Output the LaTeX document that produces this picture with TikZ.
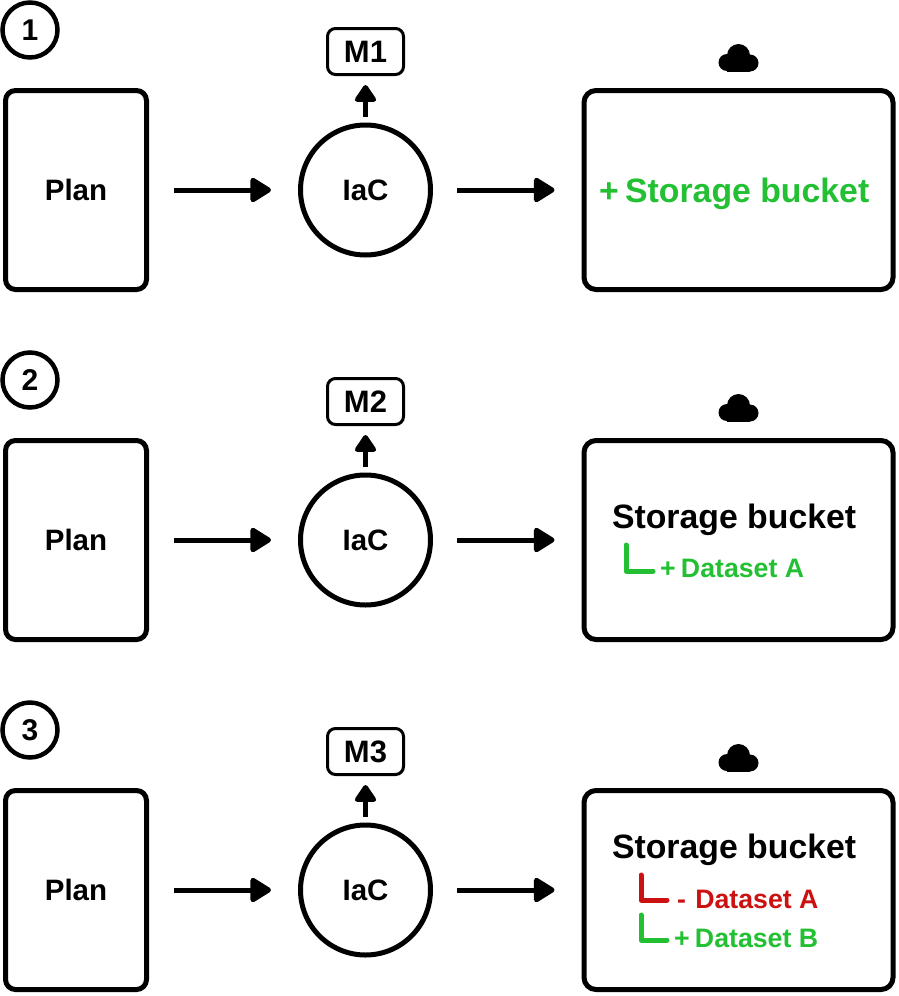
\documentclass[tikz,border=0pt]{standalone}
\usepackage{fontspec}
\setmainfont{Liberation Sans}
\usetikzlibrary{arrows.meta}
\definecolor{addgreen}{RGB}{34,192,50}
\definecolor{delred}{RGB}{204,17,17}
\begin{document}
\begin{tikzpicture}[x=1pt,y=-1pt,inner sep=0pt,outer sep=0pt,line width=5pt,font=\bfseries,
>={Triangle[round,length=23pt,width=27pt]},
uparrow/.style={{Triangle[round,length=19pt,width=24pt]}-},
stepnum/.style={draw,circle,minimum size=55pt,line width=4.5pt,font=\bfseries\fontsize{30}{30}\selectfont},
planblock/.style={draw,rectangle,rounded corners=10pt,minimum width=141pt,minimum height=199pt,font=\bfseries\fontsize{29.5}{30}\selectfont},
iacblock/.style={draw,circle,minimum size=130pt,font=\bfseries\fontsize{29.5}{30}\selectfont},
modblock/.style={draw,rectangle,rounded corners=8pt,minimum width=76pt,minimum height=46pt,line width=3pt,font=\bfseries\fontsize{31}{31}\selectfont},
cloudblock/.style={draw,rectangle,rounded corners=12pt,minimum width=309pt,minimum height=199pt},
bigtext/.style={anchor=base west,font=\bfseries\fontsize{33.8}{34}\selectfont},
subtext/.style={anchor=base west,font=\bfseries\fontsize{26.7}{27}\selectfont},
elbow/.style={line cap=round,line join=round,line width=5pt},
cloudicon/.pic={\fill (-11,4.5) circle[radius=8.5];
\fill (12,5) circle[radius=8.5];
\fill (0.5,-2.5) circle[radius=11.5];
\fill (-11,4) rectangle (12,13.5);}]
\useasboundingbox (0,0) rectangle (898,996);
% row 1
\draw (30,30) node[stepnum] (num1) {1};
\draw (76,190) node[planblock] (plan1) {Plan};
\draw (365.5,190) node[iacblock] (iac1) {IaC};
\draw (365.5,51.5) node[modblock] (mod1) {M1};
\draw (738.5,190) node[cloudblock] (box1) {};
\draw (738,58) pic {cloudicon};
\draw (599,202) node[bigtext,text=addgreen] (lab1) {+\hspace{-3pt} Storage bucket};
\draw[->,shorten <=27.5pt,shorten >=29.5pt] (plan1.0) -- (iac1.180);
\draw[->,shorten <=26.5pt,shorten >=29.5pt] (iac1.0) -- (box1.180);
\draw[uparrow,shorten <=10.5pt,shorten >=8pt] (mod1.-90) -- (iac1.90);
% row 2
\draw (30,380) node[stepnum] (num2) {2};
\draw (76,540) node[planblock] (plan2) {Plan};
\draw (365.5,540) node[iacblock] (iac2) {IaC};
\draw (365.5,401.5) node[modblock] (mod2) {M2};
\draw (738.5,540) node[cloudblock] (box2) {};
\draw (738,408) pic {cloudicon};
\draw (612,528) node[bigtext] (lab2) {Storage bucket};
\draw (660,577) node[subtext,text=addgreen] (add2) {+\hspace{-2pt} Dataset A};
\coordinate (e2a) at (626,545);
\coordinate (e2b) at (653,571);
\draw[elbow,addgreen] (e2a) |- (e2b);
\draw[->,shorten <=27.5pt,shorten >=29.5pt] (plan2.0) -- (iac2.180);
\draw[->,shorten <=26.5pt,shorten >=29.5pt] (iac2.0) -- (box2.180);
\draw[uparrow,shorten <=10.5pt,shorten >=8pt] (mod2.-90) -- (iac2.90);
% row 3
\draw (30,730) node[stepnum] (num3) {3};
\draw (76,890) node[planblock] (plan3) {Plan};
\draw (365.5,890) node[iacblock] (iac3) {IaC};
\draw (365.5,751.5) node[modblock] (mod3) {M3};
\draw (738.5,890) node[cloudblock] (box3) {};
\draw (738,758) pic {cloudicon};
\draw (612,858) node[bigtext] (lab3) {Storage bucket};
\draw (677,908) node[subtext,text=delred] (del3) {-\hspace{2pt} Dataset A};
\draw (674,947) node[subtext,text=addgreen] (add3) {+\hspace{-2pt} Dataset B};
\coordinate (e3a) at (641,875);
\coordinate (e3b) at (667,900);
\coordinate (e3c) at (641,915);
\coordinate (e3d) at (667,940);
\draw[elbow,delred] (e3a) |- (e3b);
\draw[elbow,addgreen] (e3c) |- (e3d);
\draw[->,shorten <=27.5pt,shorten >=29.5pt] (plan3.0) -- (iac3.180);
\draw[->,shorten <=26.5pt,shorten >=29.5pt] (iac3.0) -- (box3.180);
\draw[uparrow,shorten <=10.5pt,shorten >=8pt] (mod3.-90) -- (iac3.90);
\end{tikzpicture}
\end{document}
